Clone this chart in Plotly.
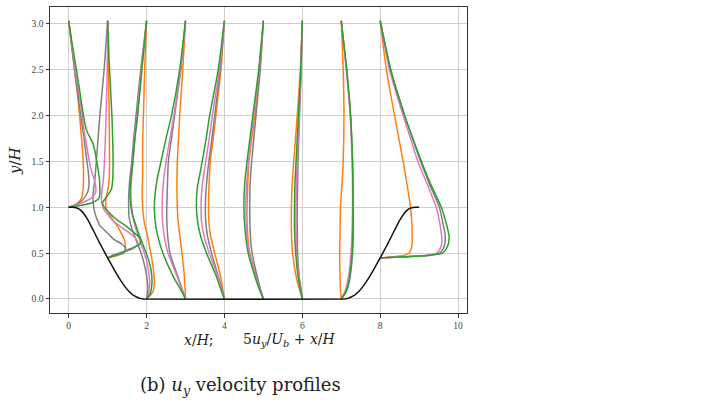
import plotly.graph_objects as go

# ---------------- data ----------------
stations = [0, 1, 2, 3, 4, 5, 6, 7, 8]

# hill wall (left hill descending, flat floor, right hill rising)
wall_x = [0.0, 0.1, 0.25, 0.32, 0.4, 0.5, 0.6, 0.714, 0.8, 0.9, 1.0, 1.071, 1.2, 1.3, 1.43, 1.55, 1.7, 1.85, 1.929,
          7.071, 7.15, 7.3, 7.45, 7.57, 7.7, 7.8, 7.929, 8.0, 8.1, 8.2, 8.286, 8.4, 8.5, 8.6, 8.68, 8.75, 8.9, 9.0]
wall_y = [1.0, 1.0, 0.986, 0.964, 0.925, 0.857, 0.776, 0.679, 0.607, 0.527, 0.448, 0.393, 0.295, 0.224, 0.143, 0.082, 0.030, 0.004, 0.0,
          0.0, 0.004, 0.030, 0.082, 0.143, 0.224, 0.295, 0.393, 0.448, 0.527, 0.607, 0.679, 0.776, 0.857, 0.925, 0.964, 0.986, 1.0, 1.0]

# station 0 (x/H = 0)
y_s0 = [1.0, 1.02, 1.05, 1.1, 1.15, 1.2, 1.3, 1.4, 1.5, 1.6, 1.7, 1.8, 1.85, 2.0, 2.25, 2.5, 2.75, 3.035]
orange_s0 = [0, 0.12, 0.24, 0.33, 0.36, 0.37, 0.38, 0.38, 0.37, 0.36, 0.34, 0.32, 0.31, 0.28, 0.22, 0.15, 0.08, 0]
gray_s0 = [0, 0.13, 0.27, 0.40, 0.47, 0.51, 0.52, 0.50, 0.47, 0.44, 0.41, 0.38, 0.36, 0.31, 0.23, 0.15, 0.08, 0]
pink_s0 = [0, 0.16, 0.35, 0.58, 0.68, 0.70, 0.66, 0.58, 0.53, 0.49, 0.45, 0.41, 0.39, 0.35, 0.26, 0.17, 0.09, 0]
green_s0 = [0, 0.30, 0.60, 0.78, 0.80, 0.80, 0.79, 0.76, 0.72, 0.68, 0.62, 0.50, 0.45, 0.38, 0.29, 0.20, 0.10, 0]

# station 1
y_s1 = [0.448, 0.46, 0.475, 0.49, 0.5, 0.55, 0.6, 0.65, 0.7, 0.75, 0.8, 0.86, 0.9, 0.98, 1.05, 1.1, 1.2, 1.3, 1.5, 2.0, 2.5, 3.035]
orange_s1 = [0, 0.12, 0.25, 0.34, 0.40, 0.46, 0.45, 0.43, 0.37, 0.31, 0.24, 0.14, 0.08, -0.03, -0.05, -0.04, 0.01, 0.04, 0.05, 0.04, 0.02, 0]
gray_s1 = [0, 0.10, 0.22, 0.35, 0.42, 0.46, 0.36, 0.16, 0.04, -0.08, -0.20, -0.26, -0.30, -0.35, -0.37, -0.38, -0.36, -0.33, -0.29, -0.20, -0.09, 0]
pink_s1 = [0, 0.05, 0.12, 0.22, 0.30, 0.66, 0.78, 0.74, 0.62, 0.46, 0.30, 0.12, 0.04, -0.10, -0.15, -0.16, -0.14, -0.11, -0.08, -0.04, -0.01, 0]
green_s1 = [0, 0.06, 0.14, 0.25, 0.32, 0.60, 0.83, 0.85, 0.74, 0.60, 0.46, 0.25, 0.14, -0.05, -0.13, -0.05, 0.10, 0.13, 0.14, 0.11, 0.05, 0]

# station 2
y_s2 = [0, 0.05, 0.1, 0.2, 0.3, 0.4, 0.5, 0.6, 0.7, 0.8, 0.9, 1.0, 1.1, 1.2, 1.35, 1.5, 1.75, 2.0, 2.5, 3.035]
orange_s2 = [0, 0.12, 0.18, 0.20, 0.18, 0.15, 0.11, 0.06, 0.02, -0.04, -0.08, -0.10, -0.11, -0.11, -0.10, -0.10, -0.10, -0.08, -0.05, 0]
gray_s2 = [0, 0.02, 0.03, 0.02, -0.02, -0.07, -0.14, -0.23, -0.32, -0.40, -0.45, -0.46, -0.46, -0.45, -0.42, -0.38, -0.33, -0.27, -0.15, 0]
pink_s2 = [0, 0.05, 0.07, 0.08, 0.05, 0.01, -0.06, -0.14, -0.22, -0.30, -0.35, -0.38, -0.40, -0.40, -0.38, -0.35, -0.30, -0.24, -0.13, 0]
green_s2 = [0, 0.09, 0.12, 0.14, 0.12, 0.07, -0.01, -0.10, -0.19, -0.27, -0.35, -0.40, -0.42, -0.42, -0.39, -0.35, -0.30, -0.23, -0.12, 0]

# station 3
y_s3 = [0, 0.1, 0.25, 0.5, 0.7, 0.85, 1.0, 1.15, 1.3, 1.5, 1.75, 2.0, 2.5, 3.035]
orange_s3 = [0, -0.01, -0.03, -0.09, -0.15, -0.19, -0.21, -0.22, -0.22, -0.21, -0.18, -0.15, -0.07, 0]
gray_s3 = [0, -0.08, -0.20, -0.40, -0.46, -0.48, -0.48, -0.47, -0.46, -0.44, -0.36, -0.28, -0.12, 0]
pink_s3 = [0, -0.09, -0.22, -0.45, -0.55, -0.59, -0.60, -0.59, -0.56, -0.50, -0.40, -0.30, -0.13, 0]
green_s3 = [0, -0.12, -0.32, -0.58, -0.72, -0.78, -0.80, -0.78, -0.73, -0.63, -0.50, -0.36, -0.15, 0]

# station 4
y_s4 = [0, 0.1, 0.25, 0.5, 0.7, 0.85, 1.0, 1.2, 1.5, 1.75, 2.0, 2.5, 3.035]
orange_s4 = [0, -0.04, -0.10, -0.25, -0.36, -0.40, -0.41, -0.40, -0.36, -0.29, -0.22, -0.09, 0]
gray_s4 = [0, -0.06, -0.16, -0.33, -0.44, -0.48, -0.49, -0.47, -0.40, -0.32, -0.25, -0.11, 0]
pink_s4 = [0, -0.07, -0.17, -0.39, -0.53, -0.59, -0.60, -0.58, -0.48, -0.39, -0.31, -0.13, 0]
green_s4 = [0, -0.09, -0.21, -0.46, -0.62, -0.69, -0.72, -0.70, -0.57, -0.47, -0.38, -0.16, 0]

# station 5
y_s5 = [0, 0.1, 0.25, 0.5, 0.75, 1.0, 1.25, 1.5, 2.0, 2.5, 3.035]
orange_s5 = [0, -0.08, -0.18, -0.35, -0.41, -0.42, -0.40, -0.37, -0.22, -0.09, 0]
gray_s5 = [0, -0.07, -0.16, -0.29, -0.34, -0.35, -0.34, -0.30, -0.19, -0.08, 0]
pink_s5 = [0, -0.09, -0.20, -0.36, -0.43, -0.45, -0.43, -0.38, -0.25, -0.11, 0]
green_s5 = [0, -0.10, -0.22, -0.39, -0.47, -0.50, -0.48, -0.42, -0.27, -0.12, 0]

# station 6
y_s6 = [0, 0.1, 0.25, 0.5, 0.75, 1.0, 1.25, 1.5, 2.0, 2.5, 3.035]
orange_s6 = [0, -0.07, -0.16, -0.25, -0.28, -0.28, -0.26, -0.22, -0.13, -0.05, 0]
gray_s6 = [0, -0.03, -0.08, -0.12, -0.13, -0.13, -0.12, -0.11, -0.07, -0.03, 0]
pink_s6 = [0, -0.04, -0.09, -0.14, -0.16, -0.16, -0.15, -0.13, -0.08, -0.03, 0]
green_s6 = [0, -0.05, -0.11, -0.17, -0.20, -0.20, -0.19, -0.16, -0.10, -0.04, 0]

# station 7
y_s7 = [0, 0.05, 0.1, 0.25, 0.5, 0.75, 1.0, 1.25, 1.5, 2.0, 2.5, 3.035]
orange_s7 = [0, -0.01, -0.02, -0.03, -0.04, -0.03, -0.02, 0.02, 0.05, 0.07, 0.05, 0]
gray_s7 = [0, 0.09, 0.15, 0.23, 0.29, 0.31, 0.31, 0.30, 0.29, 0.24, 0.14, 0]
pink_s7 = [0, 0.06, 0.11, 0.19, 0.25, 0.28, 0.29, 0.29, 0.28, 0.23, 0.13, 0]
green_s7 = [0, 0.08, 0.14, 0.22, 0.28, 0.30, 0.30, 0.30, 0.29, 0.24, 0.14, 0]

# station 8
y_s8 = [0.448, 0.46, 0.475, 0.49, 0.5, 0.55, 0.6, 0.68, 0.75, 0.85, 1.0, 1.25, 1.5, 1.75, 2.0, 2.5, 3.035]
orange_s8 = [0, 0.30, 0.60, 0.70, 0.74, 0.80, 0.82, 0.82, 0.82, 0.81, 0.78, 0.69, 0.59, 0.48, 0.37, 0.16, 0]
gray_s8 = [0, 0.60, 1.20, 1.44, 1.52, 1.62, 1.66, 1.67, 1.65, 1.60, 1.52, 1.27, 1.04, 0.83, 0.63, 0.27, 0]
pink_s8 = [0, 0.58, 1.15, 1.38, 1.45, 1.54, 1.58, 1.58, 1.56, 1.52, 1.44, 1.21, 0.97, 0.78, 0.59, 0.24, 0]
green_s8 = [0, 0.62, 1.25, 1.50, 1.60, 1.70, 1.75, 1.77, 1.74, 1.68, 1.57, 1.30, 1.06, 0.84, 0.63, 0.27, 0]

# ---------------- figure ----------------
y_all = [y_s0, y_s1, y_s2, y_s3, y_s4, y_s5, y_s6, y_s7, y_s8]
series = [
    ("#ff7f0e", [orange_s0, orange_s1, orange_s2, orange_s3, orange_s4, orange_s5, orange_s6, orange_s7, orange_s8]),
    ("#7f7f7f", [gray_s0, gray_s1, gray_s2, gray_s3, gray_s4, gray_s5, gray_s6, gray_s7, gray_s8]),
    ("#e377c2", [pink_s0, pink_s1, pink_s2, pink_s3, pink_s4, pink_s5, pink_s6, pink_s7, pink_s8]),
    ("#2ca02c", [green_s0, green_s1, green_s2, green_s3, green_s4, green_s5, green_s6, green_s7, green_s8]),
]

fig = go.Figure()
for color, profs in series:
    for st, ys, dx in zip(stations, y_all, profs):
        fig.add_trace(go.Scatter(
            x=[st + d for d in dx], y=ys, mode="lines",
            line=dict(color=color, width=1.5, shape="spline", smoothing=0.6),
            hoverinfo="skip", showlegend=False))

fig.add_trace(go.Scatter(x=wall_x, y=wall_y, mode="lines",
                         line=dict(color="#111111", width=1.5, shape="spline", smoothing=0.4),
                         hoverinfo="skip", showlegend=False))

serif = "Liberation Serif, DejaVu Serif, serif"
serif2 = "DejaVu Serif, Liberation Serif, serif"
axis_common = dict(showgrid=True, gridcolor="#cfcfcf", gridwidth=1.2, zeroline=False,
                   showline=True, linecolor="#333333", linewidth=1, mirror=True,
                   ticks="outside", ticklen=3.5, tickcolor="#333333",
                   tickfont=dict(size=9.6, family=serif, color="#444444"))
fig.update_layout(
    width=708, height=404,
    margin=dict(l=50, r=241, t=7, b=91),
    paper_bgcolor="white", plot_bgcolor="white",
    font=dict(family=serif, size=9.6, color="#333333"),
    xaxis=dict(range=[-0.48, 10.23], tickvals=[0, 2, 4, 6, 8, 10],
               ticktext=["0", "2", "4", "6", "8", "10"], **axis_common),
    yaxis=dict(range=[-0.153, 3.185], tickvals=[0, 0.5, 1.0, 1.5, 2.0, 2.5, 3.0],
               ticktext=["0.0", "0.5", "1.0", "1.5", "2.0", "2.5", "3.0"], **axis_common),
    annotations=[
        dict(text="<i>y</i>/<i>H</i>", xref="paper", yref="paper", x=-0.084, y=0.5,
             xanchor="center", yanchor="middle",
             textangle=-90, showarrow=False, font=dict(size=15, family=serif2, color="#222222")),
        dict(text="<i>x</i>/<i>H</i>;", xref="paper", yref="paper", x=(199 - 50) / 417, y=-0.088,
             xanchor="center", yanchor="middle", showarrow=False,
             font=dict(size=14, family=serif2, color="#222222")),
        dict(text="5<i>u<sub>y</sub></i>/<i>U<sub>b</sub></i> + <i>x</i>/<i>H</i>",
             xref="paper", yref="paper", x=(289.5 - 50) / 417, y=-0.088,
             xanchor="center", yanchor="middle", showarrow=False,
             font=dict(size=14, family=serif2, color="#222222")),
        dict(text="(b) <i>u<sub>y</sub></i> velocity profiles", xref="paper", yref="paper",
             x=(240 - 50) / 417, y=-0.2386, xanchor="center", yanchor="middle", showarrow=False,
             font=dict(size=18, family=serif2, color="#222222")),
    ],
)

fig.write_html("out.html")
